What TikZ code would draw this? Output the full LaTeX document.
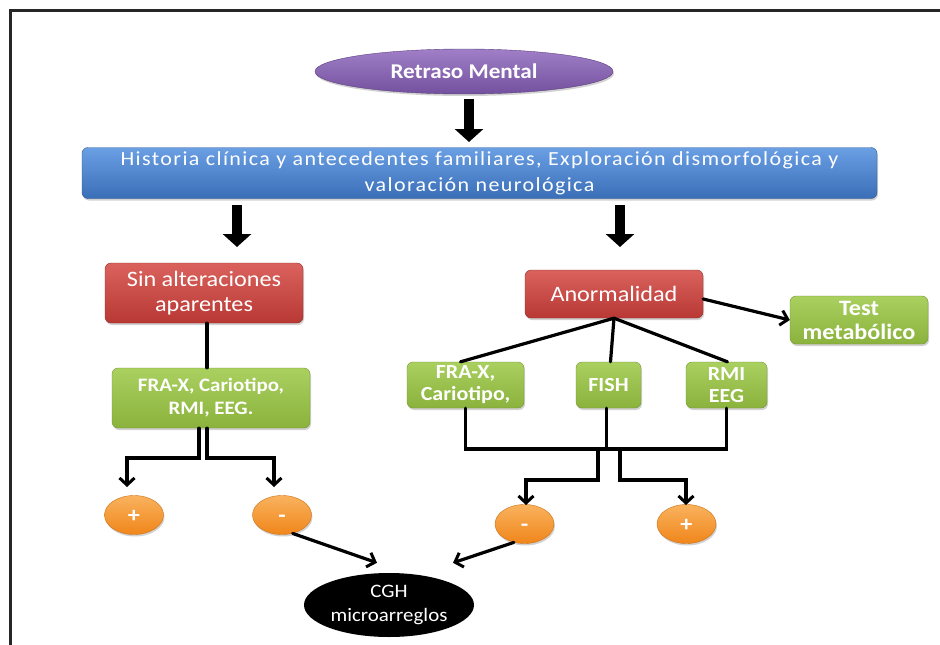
\documentclass[tikz,border=0pt]{standalone}
\usepackage{fontspec}
\setmainfont{Carlito}[FakeStretch=1.1]
\usetikzlibrary{arrows.meta,shapes.geometric,shadows,calc}
\definecolor{pur}{HTML}{74519E}
\definecolor{purT}{HTML}{A07FC8}
\definecolor{blu}{HTML}{3A6FB8}
\definecolor{bluT}{HTML}{6A9FE4}
\definecolor{rd}{HTML}{B83834}
\definecolor{rdT}{HTML}{DA625D}
\definecolor{grn}{HTML}{8AB23C}
\definecolor{grnT}{HTML}{AAD060}
\definecolor{org}{HTML}{F0861A}
\definecolor{orgT}{HTML}{F9B25E}
\tikzset{
  shad/.style={drop shadow={opacity=0.35,shadow xshift=1pt,shadow yshift=-2pt}},
  boxbase/.style={rounded corners=6pt,inner sep=0pt,align=center,text=white,shad},
  bluebox/.style={boxbase,top color=bluT,bottom color=blu,draw=blu!80!black,line width=0.4pt},
  redbox/.style={boxbase,top color=rdT,bottom color=rd,draw=rd!80!black,line width=0.4pt},
  greenbox/.style={boxbase,top color=grnT,bottom color=grn,draw=grn!85!black,line width=0.4pt,font=\fontsize{19}{23}\selectfont\bfseries},
  smallgreen/.style={greenbox,minimum height=46pt,font=\fontsize{20}{22}\selectfont\bfseries},
  orangeell/.style={ellipse,inner sep=0pt,top color=orgT,bottom color=org,draw=org!85!black,line width=0.4pt,text=white,font=\fontsize{22}{22}\selectfont\bfseries,minimum width=59pt,minimum height=39pt,text height=15pt,text depth=0pt,shad},
  blockarrow/.style={line width=10pt,-{Triangle[length=13pt,width=28pt]}},
  conn/.style={line width=3.2pt,line cap=round},
  connarrow/.style={conn,-{Straight Barb[length=7pt,width=15pt,line width=3pt]}},
}
\begin{document}
\begin{tikzpicture}[x=1pt,y=-1pt]
\useasboundingbox (0,0) rectangle (940,645);
\fill[white] (0,0) rectangle (940,645);
% frame
\draw[line width=3pt,black!85] (10,648) -- (10,10) -- (943,10);

% nodes
\node[ellipse,inner sep=0pt,minimum width=298pt,minimum height=45pt,top color=purT,bottom color=pur,draw=pur!80!black,line width=0.4pt,shad,text=white,font=\fontsize{21}{22}\selectfont\bfseries] (rm) at (464,71.5) {Retraso Mental};

\node[bluebox,minimum width=795pt,minimum height=51pt,font=\fontsize{20}{26}\selectfont\addfontfeature{LetterSpace=7}] (hc) at (479.5,173) {Historia clínica y antecedentes familiares, Exploración dismorfológica y\\valoración neurológica};

\node[redbox,minimum width=198pt,minimum height=60pt,font=\fontsize{22}{25}\selectfont] (sin) at (204,293) {Sin alteraciones\\aparentes};
\node[redbox,minimum width=178pt,minimum height=48pt,font=\fontsize{22}{25}\selectfont] (an) at (614,294) {Anormalidad};

\node[greenbox,minimum width=198pt,minimum height=60pt] (g1) at (211,398) {FRA-X, Cariotipo,\\RMI, EEG.};
\node[greenbox,minimum width=138pt,minimum height=48pt,font=\fontsize{22}{24}\selectfont\bfseries] (tm) at (859,320) {Test\\metabólico};
\node[smallgreen,minimum width=117pt] (fra) at (465.5,385) {FRA-X,\\Cariotipo,};
\node[smallgreen,minimum width=65pt] (fish) at (608.5,385) {FISH};
\node[smallgreen,minimum width=81pt] (rmi) at (726.5,385) {RMI\\EEG};

\node[orangeell] (p1) at (134,515) {+};
\node[orangeell] (m1) at (282,515) {-};
\node[orangeell] (m2) at (524.5,524) {-};
\node[orangeell] (p2) at (686.5,524) {+};

\node[ellipse,fill=black,inner sep=0pt,minimum width=170pt,minimum height=64pt,text=white,align=center,font=\fontsize{19}{24}\selectfont] (cgh) at (389,605) {CGH\\microarreglos};

% block arrows
\coordinate (a1s) at (469,99);
\coordinate (a1e) at (469,142);
\coordinate (a2s) at (237,205);
\coordinate (a2e) at (237,247);
\coordinate (a3s) at (620,205);
\coordinate (a3e) at (620,247);
\draw[blockarrow] (a1s) -- (a1e);
\draw[blockarrow] (a2s) -- (a2e);
\draw[blockarrow] (a3s) -- (a3e);

% left branch
\draw[conn] (sin.south -| 207,0) -- (g1.north -| 207,0);
\draw[connarrow] ([xshift=-12pt]g1.south) |- (127,458) -- (127,487);
\draw[connarrow] ([xshift=-4pt]g1.south) |- (274,458) -- (274,487);
\draw[connarrow] (m1.-60) -- ([xshift=-12pt,yshift=10pt]cgh.north);

% right branch
\draw[connarrow] ([yshift=-5pt]an.east) -- (tm.west);
\draw[conn] (an.south) -- ([xshift=-5pt]fra.north);
\draw[conn] (an.south) -- ([xshift=2pt]fish.north);
\draw[conn] (an.south) -- ([xshift=1pt]rmi.north);
\draw[conn] (fra.south) |- (rmi.south |- 0,449) -- (rmi.south);
\draw[conn] ([xshift=-2pt]fish.south) -- (606.5,449);
\draw[connarrow] (598,449) |- (526,480) -- (526,505);
\draw[connarrow] (620,449) |- (686,480) -- (686,505);
\draw[connarrow] (m2.240) -- ([xshift=64pt,yshift=10pt]cgh.north);
\end{tikzpicture}
\end{document}
